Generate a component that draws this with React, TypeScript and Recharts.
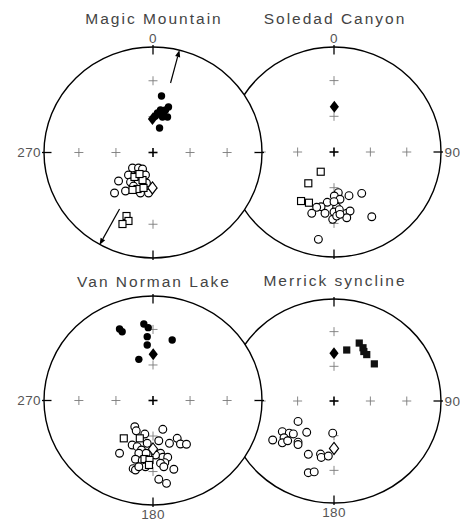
import React from 'react';
import { ScatterChart, Scatter, XAxis, YAxis } from 'recharts';

type Pt = [number, number];

// ---------- Magic Mountain ----------
const magicNormal: Pt[] = [
  [0.078, 0.536], [0.142, 0.431], [0.115, 0.403], [0.069, 0.403], [0.041, 0.374],
  [0.096, 0.365], [0.133, 0.336], [0.087, 0.336], [0.023, 0.346], [0.06, 0.232],
];
const magicReversed: Pt[] = [
  [-0.316, -0.27], [-0.353, -0.384], [-0.252, -0.365], [-0.225, -0.213], [-0.188, -0.147],
  [-0.133, -0.147], [-0.096, -0.156], [-0.069, -0.213], [-0.041, -0.384], [-0.206, -0.28],
  [-0.115, -0.384], [-0.179, -0.318], [-0.06, -0.289], [-0.151, -0.223],
];
const magicSquares: Pt[] = [
  [-0.17, -0.232], [-0.142, -0.346], [-0.188, -0.355], [-0.087, -0.336], [-0.096, -0.261],
  [-0.124, -0.204], [-0.243, -0.602], [-0.225, -0.649], [-0.28, -0.678],
];
const magicMeanNormal: Pt[] = [[-0.005, 0.318]];
const magicMeanReversed: Pt[] = [[-0.005, -0.336]];
const magicArrows = [
  { from: [0.161, 0.659] as Pt, to: [0.243, 0.972] as Pt },
  { from: [-0.307, -0.536] as Pt, to: [-0.491, -0.877] as Pt },
];

// ---------- Soledad Canyon ----------
const soledadMeanNormal: Pt[] = [[0.003, 0.431]];
const soledadSquares: Pt[] = [
  [-0.124, -0.188], [-0.24, -0.298], [-0.308, -0.467], [-0.234, -0.483],
];
const soledadReversed: Pt[] = [
  [0.04, -0.387], [0.003, -0.419], [0.056, -0.45], [0.14, -0.416], [0.259, -0.394],
  [-0.063, -0.479], [-0.121, -0.521], [-0.162, -0.527], [-0.208, -0.584], [-0.084, -0.584],
  [0.025, -0.524], [0.0, -0.571], [0.05, -0.549], [0.119, -0.584], [0.15, -0.562],
  [0.119, -0.626], [-0.012, -0.641], [0.025, -0.61], [0.353, -0.617], [-0.146, -0.832],
  [0.0, -0.473], [0.056, -0.594],
];

// ---------- Van Norman Lake ----------
const vanNormal: Pt[] = [
  [-0.307, 0.684], [-0.283, 0.658], [-0.084, 0.732], [-0.044, 0.697], [-0.053, 0.611],
  [-0.053, 0.531], [0.176, 0.579], [-0.13, 0.394],
];
const vanMeanNormal: Pt[] = [[0.002, 0.442]];
const vanReversed: Pt[] = [
  [-0.167, -0.251], [-0.154, -0.29], [-0.075, -0.321], [0.09, -0.276], [-0.191, -0.426],
  [-0.145, -0.442], [-0.106, -0.474], [-0.053, -0.41], [0.053, -0.385], [0.151, -0.41],
  [0.222, -0.362], [0.252, -0.416], [0.307, -0.419], [-0.307, -0.505], [-0.13, -0.505],
  [-0.161, -0.562], [-0.099, -0.576], [0.069, -0.505], [0.09, -0.543], [0.135, -0.543],
  [0.108, -0.595], [0.069, -0.6], [0.191, -0.658], [-0.182, -0.652], [-0.161, -0.665],
  [0.099, -0.634], [0.053, -0.754], [0.124, -0.793], [0.023, -0.522], [-0.063, -0.505],
  [-0.069, -0.634], [-0.13, -0.634],
];
const vanSquares: Pt[] = [
  [-0.268, -0.362], [-0.121, -0.362], [-0.078, -0.56], [-0.032, -0.569], [-0.037, -0.617],
];
const vanMeanReversed: Pt[] = [[0.0, -0.464]];

// ---------- Merrick syncline ----------
const merrickMeanNormal: Pt[] = [[0.0, 0.468]];
const merrickSquares: Pt[] = [
  [0.119, 0.5], [0.236, 0.568], [0.271, 0.522], [0.279, 0.485], [0.306, 0.455], [0.377, 0.364],
];
const merrickReversed: Pt[] = [
  [-0.336, -0.2], [-0.483, -0.3], [-0.418, -0.315], [-0.38, -0.323], [-0.467, -0.36],
  [-0.483, -0.41], [-0.573, -0.382], [-0.433, -0.39], [-0.336, -0.403], [-0.336, -0.427],
  [-0.255, -0.307], [-0.012, -0.315], [-0.24, -0.523], [-0.126, -0.52], [-0.119, -0.553],
  [-0.053, -0.54], [-0.24, -0.703], [-0.185, -0.695],
];
const merrickMeanReversed: Pt[] = [[0.0, -0.465]];

// ---------- net furniture ----------
const gridCrosses: Pt[] = [
  [-0.68, 0], [-0.34, 0], [0.34, 0], [0.68, 0], [0, 0.34], [0, 0.68], [0, -0.34], [0, -0.68],
];
const edgeTicks = [
  { x: 0, y: 1, dir: 'top' }, { x: 0, y: -1, dir: 'bottom' },
  { x: -1, y: 0, dir: 'left' }, { x: 1, y: 0, dir: 'right' },
];

const FONT = '"Liberation Sans", Arial, sans-serif';
const ML = 40, MR = 40, MT = 48, MB = 22;

const toData = (pts: Pt[]) => pts.map(([x, y]) => ({ x, y }));

const dirVec: Record<string, [number, number]> = {
  top: [0, -1], bottom: [0, 1], left: [-1, 0], right: [1, 0],
};

const shapeDot = (p: any) => <circle cx={p.cx} cy={p.cy} r={3.7} fill="#000" />;
const shapeRing = (p: any) => (
  <circle cx={p.cx} cy={p.cy} r={3.9} fill="#fff" stroke="#000" strokeWidth={1.15} />
);
const shapeOpenSquare = (p: any) => (
  <rect x={p.cx - 3.5} y={p.cy - 3.5} width={7} height={7} fill="#fff" stroke="#000" strokeWidth={1.15} />
);
const shapeFilledSquare = (p: any) => (
  <rect x={p.cx - 3.6} y={p.cy - 3.6} width={7.2} height={7.2} fill="#111" />
);
const diamondPath = (cx: number, cy: number) =>
  `M${cx},${cy - 6} L${cx + 4.6},${cy} L${cx},${cy + 6} L${cx - 4.6},${cy} Z`;
const shapeFilledDiamond = (p: any) => <path d={diamondPath(p.cx, p.cy)} fill="#000" />;
const shapeOpenDiamond = (p: any) => (
  <path d={diamondPath(p.cx, p.cy)} fill="#fff" stroke="#000" strokeWidth={1.15} />
);

type Series = { data: Pt[]; shape: (p: any) => React.ReactElement };
type Label = { dir: string; text: string };
type NetCfg = {
  title: string; cx: number; cy: number; rx: number; ry: number; titleDy: number;
  labels: Label[]; series: Series[]; arrows?: { from: Pt; to: Pt }[];
};

const nets: NetCfg[] = [
  {
    title: 'Soledad Canyon', cx: 334, cy: 152, rx: 107, ry: 105, titleDy: -128,
    labels: [{ dir: 'top', text: '0' }, { dir: 'right', text: '90' }],
    series: [
      { data: soledadReversed, shape: shapeRing },
      { data: soledadSquares, shape: shapeOpenSquare },
      { data: soledadMeanNormal, shape: shapeFilledDiamond },
    ],
  },
  {
    title: 'Magic Mountain', cx: 152.5, cy: 152.5, rx: 109, ry: 105.5, titleDy: -128.5,
    labels: [{ dir: 'top', text: '0' }, { dir: 'left', text: '270' }],
    series: [
      { data: magicReversed, shape: shapeRing },
      { data: magicSquares, shape: shapeOpenSquare },
      { data: magicMeanReversed, shape: shapeOpenDiamond },
      { data: magicNormal, shape: shapeDot },
      { data: magicMeanNormal, shape: shapeFilledDiamond },
    ],
    arrows: magicArrows,
  },
  {
    title: 'Merrick syncline', cx: 334, cy: 401, rx: 107, ry: 102, titleDy: -115,
    labels: [{ dir: 'right', text: '90' }, { dir: 'bottom', text: '180' }],
    series: [
      { data: merrickReversed, shape: shapeRing },
      { data: merrickMeanReversed, shape: shapeOpenDiamond },
      { data: merrickSquares, shape: shapeFilledSquare },
      { data: merrickMeanNormal, shape: shapeFilledDiamond },
    ],
  },
  {
    title: 'Van Norman Lake', cx: 152.5, cy: 400.5, rx: 109, ry: 104.5, titleDy: -113.5,
    labels: [{ dir: 'left', text: '270' }, { dir: 'bottom', text: '180' }],
    series: [
      { data: vanReversed, shape: shapeRing },
      { data: vanSquares, shape: shapeOpenSquare },
      { data: vanMeanReversed, shape: shapeOpenDiamond },
      { data: vanNormal, shape: shapeDot },
      { data: vanMeanNormal, shape: shapeFilledDiamond },
    ],
  },
];

const posOf: Record<string, Pt> = { top: [0, 1], bottom: [0, -1], left: [-1, 0], right: [1, 0] };

function Net({ cfg }: { cfg: NetCfg }) {
  const { rx, ry } = cfg;
  const width = 2 * rx + ML + MR;
  const height = 2 * ry + MT + MB;

  const outline = (p: any) => (
    <ellipse cx={p.cx} cy={p.cy} rx={rx} ry={ry} fill="#fff" stroke="#000" strokeWidth={1.4} />
  );
  const tick = (p: any) => {
    const [ux, uy] = dirVec[p.payload.dir];
    return (
      <line x1={p.cx + ux * 2} y1={p.cy + uy * 2} x2={p.cx - ux * 7.5} y2={p.cy - uy * 7.5}
        stroke="#000" strokeWidth={1.3} />
    );
  };
  const cross = (p: any) => (
    <g stroke="#7a7a7a" strokeWidth={0.9}>
      <line x1={p.cx - 4.5} y1={p.cy} x2={p.cx + 4.5} y2={p.cy} />
      <line x1={p.cx} y1={p.cy - 4.5} x2={p.cx} y2={p.cy + 4.5} />
    </g>
  );
  const centerCross = (p: any) => (
    <g stroke="#000" strokeWidth={1.6}>
      <line x1={p.cx - 4.5} y1={p.cy} x2={p.cx + 4.5} y2={p.cy} />
      <line x1={p.cx} y1={p.cy - 4.5} x2={p.cx} y2={p.cy + 4.5} />
    </g>
  );
  const label = (p: any) => {
    const d = p.payload.dir;
    let x = p.cx, y = p.cy, anchor: any = 'middle';
    if (d === 'top') y = p.cy - 4.5;
    if (d === 'bottom') y = p.cy + 14;
    if (d === 'left') { x = p.cx - 3; y = p.cy + 4.8; anchor = 'end'; }
    if (d === 'right') { x = p.cx + 3.5; y = p.cy + 4.8; anchor = 'start'; }
    return (
      <text x={x} y={y} textAnchor={anchor} fontFamily={FONT} fontSize={13.5} fill="#555"
        letterSpacing={0.4}>{p.payload.text}</text>
    );
  };
  const title = (p: any) => (
    <text x={p.cx + 1} y={p.cy + cfg.titleDy} textAnchor="middle" fontFamily={FONT}
      fontSize={15.5} letterSpacing={2} fill="#444">{cfg.title}</text>
  );
  const arrow = (p: any) => {
    const tx = p.cx, ty = p.cy;
    const fx = p.cx + (p.payload.fx - p.payload.x) * rx;
    const fy = p.cy - (p.payload.fy - p.payload.y) * ry;
    const a = Math.atan2(ty - fy, tx - fx);
    const L = 7, W = 2.6;
    const bx = tx - Math.cos(a) * L, by = ty - Math.sin(a) * L;
    const nx = -Math.sin(a) * W, ny = Math.cos(a) * W;
    return (
      <g>
        <line x1={fx} y1={fy} x2={bx} y2={by} stroke="#000" strokeWidth={1.2} />
        <path d={`M${tx},${ty} L${bx + nx},${by + ny} L${bx - nx},${by - ny} Z`} fill="#000" />
      </g>
    );
  };

  const labelData = cfg.labels.map((l) => ({ x: posOf[l.dir][0], y: posOf[l.dir][1], dir: l.dir, text: l.text }));
  const arrowData = (cfg.arrows || []).map((a) => ({ x: a.to[0], y: a.to[1], fx: a.from[0], fy: a.from[1] }));

  return (
    <div style={{ position: 'absolute', left: cfg.cx - rx - ML, top: cfg.cy - ry - MT, width, height }}>
      <ScatterChart width={width} height={height} margin={{ top: MT, right: MR, bottom: MB, left: ML }}>
        <XAxis type="number" dataKey="x" domain={[-1, 1]} hide />
        <YAxis type="number" dataKey="y" domain={[-1, 1]} hide />
        <Scatter data={[{ x: 0, y: 0 }]} shape={outline} isAnimationActive={false} />
        <Scatter data={edgeTicks} shape={tick} isAnimationActive={false} />
        <Scatter data={toData(gridCrosses)} shape={cross} isAnimationActive={false} />
        <Scatter data={[{ x: 0, y: 0 }]} shape={centerCross} isAnimationActive={false} />
        <Scatter data={labelData} shape={label} isAnimationActive={false} />
        <Scatter data={[{ x: 0, y: 0 }]} shape={title} isAnimationActive={false} />
        {arrowData.length > 0 && <Scatter data={arrowData} shape={arrow} isAnimationActive={false} />}
        {cfg.series.map((s, i) => (
          <Scatter key={i} data={toData(s.data)} shape={s.shape} isAnimationActive={false} />
        ))}
      </ScatterChart>
    </div>
  );
}

export default function App() {
  return (
    <div style={{ position: 'absolute', left: 0, top: 0, width: 460, height: 521, overflow: 'hidden', background: '#fff' }}>
      {nets.map((n) => (
        <Net key={n.title} cfg={n} />
      ))}
    </div>
  );
}
